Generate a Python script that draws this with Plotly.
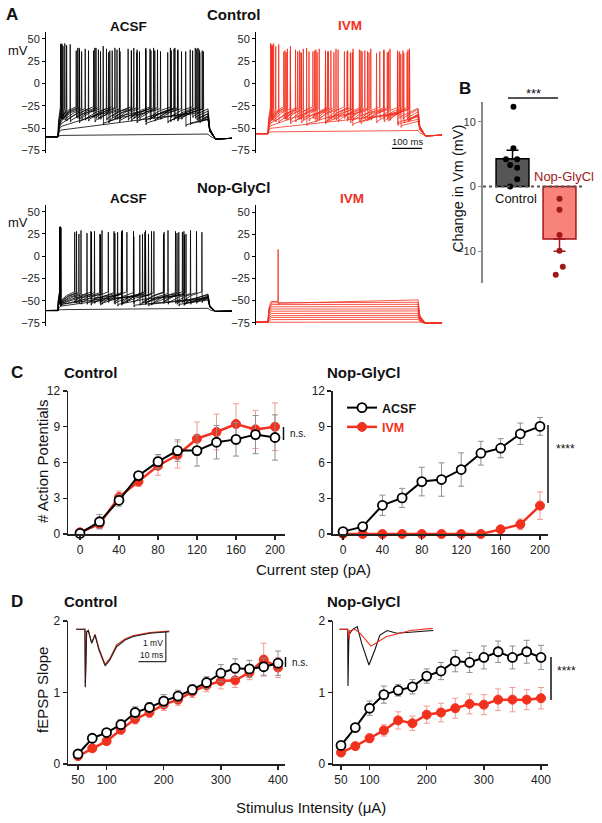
import plotly.graph_objects as go

W, H = 602, 823
FONT = "Liberation Sans, Arial, Helvetica, sans-serif"
RED = "#F2301E"
DARKRED = "#9E1A1A"
GRAY_ERR = "#8E8E8E"
RED_ERR = "#F39A93"

# ======================= DATA =======================
# ---- Panel A: current-clamp sweeps (time in ms, voltage in mV) ----
STEP_ON, STEP_OFF = 0, 500
T_START, T_END = -40, 580

# Control, ACSF (black)
CA_BASE = -59.5
CA_PLAT = [-58, -52, -48, -45, -43, -41, -40, -39, -38, -37, -36]
CA_THR = [None, -34, -33, -32, -30, -29, -28, -28, -27, -27, -26]
CA_AHP = [None, -46, -44, -42, -41, -40, -39, -38, -38, -37, -36]
CA_PEAK = [None, 36, 38, 35, 40, 37, 39, 36, 38, 40, 37]
CA_FIRST_PEAK = [None, 36, 42, 40, 44, 43, 45, 42, 44, 45, 44]
CA_SPIKES = [
    [],
    [425],
    [150, 292, 440],
    [70, 168, 262, 365, 472],
    [40, 122, 204, 292, 374, 466],
    [28, 101, 172, 244, 322, 398, 480],
    [22, 90, 161, 233, 306, 386, 462],
    [16, 78, 141, 206, 271, 341, 411, 484],
    [13, 71, 134, 196, 263, 331, 399, 470],
    [10, 65, 126, 189, 252, 318, 389, 457],
    [8, 60, 118, 180, 244, 309, 377, 448],
]

# Control, IVM (red)
CI_BASE = -56
CI_PLAT = [-54, -50, -47, -44, -42, -40, -39, -38, -37, -36, -35]
CI_THR = [None, -34, -33, -32, -30, -29, -28, -28, -27, -27, -26]
CI_AHP = [None, -47, -45, -43, -42, -41, -40, -39, -38, -38, -37]
CI_PEAK = [None, 33, 35, 37, 34, 38, 36, 39, 35, 37, 36]
CI_FIRST_PEAK = [None, 33, 40, 42, 44, 42, 45, 43, 44, 42, 45]
CI_SPIKES = [
    [],
    [442],
    [128, 281, 432],
    [74, 191, 309, 431],
    [35, 111, 191, 274, 361, 452],
    [25, 91, 159, 233, 304, 386, 466],
    [18, 74, 136, 198, 263, 331, 401, 471],
    [14, 64, 117, 170, 226, 283, 342, 406, 471],
    [12, 60, 109, 163, 219, 275, 336, 397, 463],
    [10, 56, 104, 155, 209, 265, 322, 385, 449],
    [8, 52, 98, 149, 201, 254, 313, 372, 438],
]

# Nop-GlyCl, ACSF (black)
NA_BASE = -61
NA_PLAT = [-60, -56, -54, -52, -50, -49, -48, -47, -46, -45, -44]
NA_THR = [None, -45, -44, -44, -43, -43, -42, -42, -41, -41, -40]
NA_AHP = [None, -55, -54, -54, -53, -53, -52, -52, -51, -51, -50]
NA_PEAK = [None, 22, 25, 27, 24, 28, 26, 29, 25, 28, 27]
NA_FIRST_PEAK = [None, 22, 31, 32, 33, 30, 33, 31, 33, 32, 33]
NA_SPIKES = [
    [],
    [252],
    [8, 301],
    [9, 198, 402],
    [8, 141, 272, 421],
    [7, 109, 211, 311, 419],
    [7, 96, 189, 291, 396],
    [6, 76, 146, 214, 291, 366, 441],
    [6, 69, 139, 211, 281, 351, 426],
    [5, 61, 121, 186, 251, 319, 391, 461],
    [5, 55, 111, 167, 229, 289, 353, 414, 479],
]

# Nop-GlyCl, IVM (red): almost no firing
NI_BASE = -74.5
NI_PLAT = [-74, -71.5, -69, -67, -64.5, -62, -59.5, -57, -54.5, -52.5, -51]
NI_PLAT_END = [-73.8, -71.2, -68.9, -66.7, -64.4, -61.7, -59.5, -56.8, -54.2, -51.9, -49.2]
NI_SPIKES = [[], [], [], [], [], [], [], [], [], [], [33]]
NI_THR = [None] * 10 + [-51]
NI_AHP = [None] * 10 + [-53]
NI_PEAK = [None] * 10 + [8]

SCALE_100MS = [413, 513]       # ms
SCALE_100MS_Y = -72.5          # mV

# ---- Panel B: change in Vm (mV) ----
B_GROUPS = ["Control", "Nop-GlyCl"]
B_MEANS = [4.3, -8.1]
B_SEM = [1.3, 1.9]
B_CTRL_PTS = [12.3, 5.9, 4.2, 4.2, 3.3, 2.9, 1.1, 0.0]
B_CTRL_JIT = [1.02, 1.02, 0.86, 1.10, 0.95, 1.10, 1.10, 0.95]
B_NOP_PTS = [-1.9, -3.6, -7.5, -9.9, -12.4, -13.6]
B_NOP_JIT = [2.0, 2.0, 2.0, 2.0, 2.07, 1.92]

# ---- Panel C: # action potentials vs current step ----
C_X = [0, 20, 40, 60, 80, 100, 120, 140, 160, 180, 200]
C_CTRL_ACSF = [0.05, 1.03, 2.83, 4.9, 6.07, 7.0, 7.0, 7.7, 7.94, 8.34, 8.1]
C_CTRL_ACSF_ERR = [0.1, 0.6, 0.5, 0.3, 0.6, 0.9, 1.3, 1.4, 1.4, 1.6, 1.9]
C_CTRL_IVM = [0.14, 0.84, 3.1, 4.4, 5.73, 6.63, 8.0, 8.56, 9.23, 8.78, 9.0]
C_CTRL_IVM_ERR = [0.1, 0.4, 0.5, 0.4, 0.8, 1.1, 1.4, 1.5, 1.7, 1.6, 2.0]
C_NOP_ACSF = [0.2, 0.62, 2.41, 3.03, 4.4, 4.57, 5.41, 6.78, 7.2, 8.41, 9.03]
C_NOP_ACSF_ERR = [0.1, 0.3, 0.85, 0.8, 1.2, 1.4, 1.4, 1.0, 0.8, 0.9, 0.75]
C_NOP_IVM = [0, 0, 0, 0, 0, 0, 0, 0, 0.39, 0.81, 2.38]
C_NOP_IVM_ERR = [0, 0, 0, 0, 0, 0, 0, 0, 0.2, 0.45, 1.15]

# ---- Panel D: fEPSP slope vs stimulus intensity ----
D_X = [50, 75, 100, 125, 150, 175, 200, 225, 250, 275, 300, 325, 350, 375, 400]
D_CTRL_ACSF = [0.14, 0.36, 0.44, 0.55, 0.72, 0.79, 0.88, 0.95, 1.04, 1.14, 1.27, 1.34, 1.33, 1.36, 1.41]
D_CTRL_ACSF_ERR = [0.03, 0.04, 0.05, 0.07, 0.08, 0.07, 0.09, 0.08, 0.07, 0.08, 0.12, 0.13, 0.12, 0.12, 0.17]
D_CTRL_IVM = [0.11, 0.22, 0.32, 0.48, 0.63, 0.72, 0.83, 0.90, 1.01, 1.10, 1.16, 1.17, 1.28, 1.46, 1.35]
D_CTRL_IVM_ERR = [0.03, 0.04, 0.05, 0.06, 0.07, 0.07, 0.08, 0.08, 0.08, 0.09, 0.11, 0.10, 0.10, 0.23, 0.14]
D_NOP_ACSF = [0.26, 0.51, 0.78, 0.97, 1.03, 1.08, 1.23, 1.30, 1.44, 1.42, 1.49, 1.57, 1.49, 1.57, 1.49]
D_NOP_ACSF_ERR = [0.03, 0.06, 0.10, 0.12, 0.08, 0.10, 0.10, 0.12, 0.15, 0.14, 0.16, 0.15, 0.16, 0.16, 0.17]
D_NOP_IVM = [0.16, 0.25, 0.36, 0.47, 0.61, 0.57, 0.69, 0.72, 0.78, 0.84, 0.83, 0.90, 0.90, 0.90, 0.92]
D_NOP_IVM_ERR = [0.03, 0.03, 0.06, 0.08, 0.12, 0.10, 0.12, 0.13, 0.14, 0.14, 0.14, 0.15, 0.17, 0.14, 0.15]

# fEPSP example traces (ms, mV)
INS_CTRL_T = [0, 3.2, 3.33, 3.8, 4.4, 5.6, 6.8, 8.2, 10.4, 12.1, 14.5, 17.5, 20.5, 26.4, 33.3]
INS_CTRL_ACSF = [0, 0, -1.93, -0.08, -0.04, -0.47, -0.19, -0.69, -1.22, -1.02, -0.58, -0.36, -0.24, -0.13, -0.08]
INS_CTRL_IVM = [0, 0, -1.90, -0.08, -0.04, -0.45, -0.17, -0.64, -1.17, -0.97, -0.52, -0.32, -0.21, -0.11, -0.06]
INS_NOP_T_ACSF = [0, 3.0, 3.1, 3.45, 3.8, 4.8, 6.4, 8.0, 10.6, 12.7, 14.5, 17.1, 20.5, 25.3, 33.6]
INS_NOP_ACSF = [0, 0, -1.89, -0.08, -0.13, 0, 0.09, -0.47, -1.19, -0.69, -0.19, -0.04, -0.13, -0.09, -0.04]
INS_NOP_T_IVM = [0, 3.0, 3.57, 3.7, 4.07, 5.6, 7.4, 9.8, 11.3, 13.4, 16.9, 21.7, 25.3, 33.4]
INS_NOP_IVM = [0, 0, -0.33, -0.04, -0.04, 0, -0.13, -0.41, -0.56, -0.44, -0.24, -0.13, -0.04, 0.03]
INS_SCALE_T = [22.3, 32.1, 32.1]
INS_SCALE_V = [-1.08, -1.08, -0.08]


# ======================= HELPERS =======================
def px(x):
    return x / W


def py(y):
    return 1 - y / H


def xdom(p0, v0, p1, v1, lo, hi):
    s = (p1 - p0) / (v1 - v0)
    return [px(p0 + (lo - v0) * s), px(p0 + (hi - v0) * s)]


def ydom(p0, v0, p1, v1, lo, hi):
    s = (p1 - p0) / (v1 - v0)
    a, b = py(p0 + (lo - v0) * s), py(p0 + (hi - v0) * s)
    return [min(a, b), max(a, b)]


def sweep_xy(base, plat, spikes, thr, ahp, peak, first_peak, plat_end=None, under=2.0):
    xs = [T_START, STEP_ON]
    ys = [base, base]
    if plat_end is None:
        plat_end = plat + 1.5
    if not spikes:
        xs += [STEP_ON + 3, STEP_ON + 12, STEP_OFF]
        ys += [base + 0.7 * (plat - base), plat, plat_end]
        v_end = plat_end
    else:
        t1 = spikes[0]
        lead = min(10.0, 0.5 * t1)
        xs += [STEP_ON + 0.4 * lead, STEP_ON + lead]
        ys += [base + 0.7 * (plat - base), plat]
        for i, ts in enumerate(spikes):
            pk = first_peak if i == 0 else peak
            xs += [ts, ts + 0.7, ts + 1.6, ts + 3.5]
            ys += [thr, pk, ahp - 2, ahp]
            if i + 1 < len(spikes):
                nxt = spikes[i + 1]
                xs.append(ts + 3.5 + 0.45 * (nxt - ts - 3.5))
                ys.append(ahp + 0.6 * (thr - ahp))
        tl = spikes[-1]
        isi = (spikes[-1] - spikes[0]) / (len(spikes) - 1) if len(spikes) > 1 else 150
        frac = max(0.0, min(0.85, (STEP_OFF - tl - 3.5) / isi))
        v_end = ahp + frac * (thr - ahp)
        if len(spikes) == 1 and spikes[0] < 100:
            v_end = plat_end
        xs.append(STEP_OFF)
        ys.append(v_end)
    xs += [STEP_OFF + 6, STEP_OFF + 25, T_END]
    ys += [base + 0.3 * (v_end - base), base - under, base - under * 0.7]
    return xs, ys


def panel_xy(base, plats, spikes, thrs, ahps, peaks, first_peaks, plat_ends=None, under=2.0):
    X, Y = [], []
    for i in range(len(plats)):
        pe = plat_ends[i] if plat_ends else None
        x, y = sweep_xy(base, plats[i], spikes[i], thrs[i], ahps[i], peaks[i],
                        first_peaks[i], pe, under)
        X += x + [None]
        Y += y + [None]
    return X, Y


fig = go.Figure()

# ======================= PANEL A =======================
trace_sets = [
    ("x", "y", CA_BASE, CA_PLAT, CA_SPIKES, CA_THR, CA_AHP, CA_PEAK, CA_FIRST_PEAK, None, "#000000", 2.5),
    ("x2", "y2", CI_BASE, CI_PLAT, CI_SPIKES, CI_THR, CI_AHP, CI_PEAK, CI_FIRST_PEAK, None, RED, 2.5),
    ("x3", "y3", NA_BASE, NA_PLAT, NA_SPIKES, NA_THR, NA_AHP, NA_PEAK, NA_FIRST_PEAK, None, "#000000", 1.0),
    ("x4", "y4", NI_BASE, NI_PLAT, NI_SPIKES, NI_THR, NI_AHP, NI_PEAK, NI_PEAK, NI_PLAT_END, RED, 1.2),
]
for xa, ya, base, plats, spk, thr, ahp, pk, fpk, pend, col, under in trace_sets:
    X, Y = panel_xy(base, plats, spk, thr, ahp, pk, fpk, pend, under)
    fig.add_trace(go.Scatter(x=X, y=Y, mode="lines", xaxis=xa, yaxis=ya,
                             line=dict(color=col, width=0.8), showlegend=False,
                             hoverinfo="skip"))

# 100 ms scale bar
fig.add_trace(go.Scatter(x=SCALE_100MS, y=[SCALE_100MS_Y] * 2, mode="lines", xaxis="x2", yaxis="y2",
                         line=dict(color="#000", width=1.2), showlegend=False, hoverinfo="skip"))

# ======================= PANEL B =======================
fig.add_trace(go.Bar(x=[1], y=[B_MEANS[0]], width=0.7, xaxis="x5", yaxis="y5",
                     marker=dict(color="#565656", line=dict(color="#000", width=1.5)),
                     error_y=dict(type="data", symmetric=False, array=[B_SEM[0]], arrayminus=[0],
                                  color="#000", thickness=1.5, width=6),
                     showlegend=False, hoverinfo="skip"))
fig.add_trace(go.Bar(x=[2], y=[B_MEANS[1]], width=0.7, xaxis="x5", yaxis="y5",
                     marker=dict(color="#F8837B", line=dict(color="#A3161A", width=1.5)),
                     error_y=dict(type="data", symmetric=False, array=[0], arrayminus=[B_SEM[1]],
                                  color="#A3161A", thickness=1.5, width=6),
                     showlegend=False, hoverinfo="skip"))
fig.add_trace(go.Scatter(x=B_CTRL_JIT, y=B_CTRL_PTS, mode="markers", xaxis="x5", yaxis="y5",
                         marker=dict(color="#000", size=6), showlegend=False, cliponaxis=False,
                         hoverinfo="skip"))
fig.add_trace(go.Scatter(x=B_NOP_JIT, y=B_NOP_PTS, mode="markers", xaxis="x5", yaxis="y5",
                         marker=dict(color=DARKRED, size=6), showlegend=False, cliponaxis=False,
                         hoverinfo="skip"))


# ======================= PANELS C & D =======================
def add_pair(xa, ya, xv, acsf, acsf_err, ivm, ivm_err, legend=False):
    fig.add_trace(go.Scatter(
        x=xv, y=ivm, mode="lines+markers", xaxis=xa, yaxis=ya,
        name="<span style='color:%s'><b>IVM</b></span>" % RED,
        line=dict(color=RED, width=2.5),
        marker=dict(color=RED, size=9, line=dict(color=RED, width=1)),
        error_y=dict(type="data", array=ivm_err, color=RED_ERR, thickness=1, width=3),
        showlegend=legend, legendrank=2, cliponaxis=False, hoverinfo="skip"))
    fig.add_trace(go.Scatter(
        x=xv, y=acsf, mode="lines+markers", xaxis=xa, yaxis=ya, name="<b>ACSF</b>",
        line=dict(color="#000", width=2),
        marker=dict(color="#fff", size=9, line=dict(color="#000", width=1.8)),
        error_y=dict(type="data", array=acsf_err, color=GRAY_ERR, thickness=1, width=3),
        showlegend=legend, legendrank=1, cliponaxis=False, hoverinfo="skip"))


add_pair("x6", "y6", C_X, C_CTRL_ACSF, C_CTRL_ACSF_ERR, C_CTRL_IVM, C_CTRL_IVM_ERR)
add_pair("x7", "y7", C_X, C_NOP_ACSF, C_NOP_ACSF_ERR, C_NOP_IVM, C_NOP_IVM_ERR, legend=True)
add_pair("x8", "y8", D_X, D_CTRL_ACSF, D_CTRL_ACSF_ERR, D_CTRL_IVM, D_CTRL_IVM_ERR)
add_pair("x9", "y9", D_X, D_NOP_ACSF, D_NOP_ACSF_ERR, D_NOP_IVM, D_NOP_IVM_ERR)

# insets
fig.add_trace(go.Scatter(x=INS_CTRL_T, y=INS_CTRL_IVM, mode="lines", xaxis="x10", yaxis="y10",
                         line=dict(color="#D8281C", width=1.1), showlegend=False, hoverinfo="skip"))
fig.add_trace(go.Scatter(x=INS_CTRL_T, y=INS_CTRL_ACSF, mode="lines", xaxis="x10", yaxis="y10",
                         line=dict(color="#222", width=1.1), showlegend=False, hoverinfo="skip"))
fig.add_trace(go.Scatter(x=INS_SCALE_T, y=INS_SCALE_V, mode="lines", xaxis="x10", yaxis="y10",
                         line=dict(color="#000", width=1), showlegend=False, hoverinfo="skip"))
fig.add_trace(go.Scatter(x=INS_NOP_T_ACSF, y=INS_NOP_ACSF, mode="lines", xaxis="x11", yaxis="y11",
                         line=dict(color="#111", width=1.1), showlegend=False, hoverinfo="skip"))
fig.add_trace(go.Scatter(x=INS_NOP_T_IVM, y=INS_NOP_IVM, mode="lines", xaxis="x11", yaxis="y11",
                         line=dict(color=RED, width=1.1), showlegend=False, hoverinfo="skip"))

# ======================= AXES =======================
tickA = dict(showline=True, linecolor="#000", linewidth=1, ticks="outside", ticklen=3,
             tickcolor="#000", tickwidth=1, tickvals=[50, 25, 0, -25, -50, -75],
             tickfont=dict(size=11, family=FONT, color="#222"), showgrid=False, zeroline=False,
             range=[-78, 58], fixedrange=True, automargin=False)
hidden = dict(visible=False, showgrid=False, zeroline=False, fixedrange=True, automargin=False)
lay = {}
A_XTL = xdom(58, 0, 208, 500, T_START, T_END)
A_XTR = xdom(268, 0, 418, 500, T_START, T_END)
lay["xaxis"] = dict(hidden, domain=A_XTL, range=[T_START, T_END], anchor="y")
lay["yaxis"] = dict(tickA, domain=ydom(39, 50, 150.6, -75, -78, 58), anchor="x")
lay["xaxis2"] = dict(hidden, domain=A_XTR, range=[T_START, T_END], anchor="y2")
lay["yaxis2"] = dict(tickA, domain=ydom(39, 50, 150.6, -75, -78, 58), anchor="x2")
lay["xaxis3"] = dict(hidden, domain=A_XTL, range=[T_START, T_END], anchor="y3")
lay["yaxis3"] = dict(tickA, domain=ydom(211.7, 50, 323, -75, -78, 58), anchor="x3")
lay["xaxis4"] = dict(hidden, domain=A_XTR, range=[T_START, T_END], anchor="y4")
lay["yaxis4"] = dict(tickA, domain=ydom(212.3, 50, 322.7, -75, -78, 58), anchor="x4")

# B
lay["xaxis5"] = dict(hidden, domain=xdom(512.5, 1, 559.5, 2, 0.372, 2.48), range=[0.372, 2.48], anchor="y5")
lay["yaxis5"] = dict(showline=True, linecolor="#8a8a8a", linewidth=2, ticks="outside", ticklen=3,
                     tickcolor="#8a8a8a", tickwidth=1.5, tickvals=[-10, 0, 10],
                     tickfont=dict(size=11, family=FONT, color="#333"), showgrid=False, zeroline=False,
                     range=[-14.85, 13.0], domain=ydom(186.5, 0, 121.7, 10, -14.85, 13.0),
                     anchor="x5", fixedrange=True, automargin=False)

axis_style = dict(showline=True, linecolor="#222", linewidth=1.5, ticks="outside", ticklen=4,
                  tickcolor="#222", tickwidth=1.3, tickfont=dict(size=12, family=FONT, color="#222"),
                  showgrid=False, zeroline=False, fixedrange=True, automargin=False)
C_YD = ydom(534, 0, 391, 12, 0, 12)
lay["xaxis6"] = dict(axis_style, domain=xdom(80, 0, 275, 200, -12.3, 210.3), range=[-12.3, 210.3],
                     tickvals=[0, 40, 80, 120, 160, 200], anchor="y6")
lay["yaxis6"] = dict(axis_style, domain=C_YD, range=[0, 12], tickvals=[0, 3, 6, 9, 12], anchor="x6")
lay["xaxis7"] = dict(axis_style, domain=xdom(343, 0, 540, 200, -10.2, 208.1), range=[-10.2, 208.1],
                     tickvals=[0, 40, 80, 120, 160, 200], anchor="y7")
lay["yaxis7"] = dict(axis_style, domain=C_YD, range=[0, 12], tickvals=[0, 3, 6, 9, 12], anchor="x7")

D_YD = ydom(764, 0, 621, 2, 0, 2)
lay["xaxis8"] = dict(axis_style, domain=xdom(78, 50, 278, 400, 32.5, 412.3), range=[32.5, 412.3],
                     tickvals=[50, 100, 200, 300, 400], anchor="y8")
lay["yaxis8"] = dict(axis_style, domain=D_YD, range=[0, 2], tickvals=[0, 1, 2], anchor="x8")
lay["xaxis9"] = dict(axis_style, domain=xdom(341, 50, 541, 400, 36, 412.3), range=[36, 412.3],
                     tickvals=[50, 100, 200, 300, 400], anchor="y9")
lay["yaxis9"] = dict(axis_style, domain=D_YD, range=[0, 2], tickvals=[0, 1, 2], anchor="x9")

INS_YD = ydom(629.3, 0, 659.3, -1, -2.1, 0.45)
lay["xaxis10"] = dict(hidden, domain=xdom(76, 0, 171.2, 34, 0, 34), range=[0, 34], anchor="y10")
lay["yaxis10"] = dict(hidden, domain=INS_YD, range=[-2.1, 0.45], anchor="x10")
lay["xaxis11"] = dict(hidden, domain=xdom(339.3, 0, 434.5, 34, 0, 34), range=[0, 34], anchor="y11")
lay["yaxis11"] = dict(hidden, domain=INS_YD, range=[-2.1, 0.45], anchor="x11")


# ======================= TEXT =======================
def ann(text, x, y, size=13, bold=False, color="#111", angle=0, xanchor="center"):
    if bold:
        text = "<b>" + text + "</b>"
    return dict(text=text, x=px(x), y=py(y), xref="paper", yref="paper", showarrow=False,
                xanchor=xanchor, yanchor="middle", textangle=angle,
                font=dict(size=size, family=FONT, color=color))


annotations = [
    ann("A", 12, 15, 17, True), ann("Control", 233, 15, 15, True),
    ann("ACSF", 128, 27, 13.5, True), ann("IVM", 350, 26, 13.5, True, RED),
    ann("mV", 18, 51, 13), ann("Nop-GlyCl", 233, 187, 15, True),
    ann("ACSF", 128, 198, 13.5, True), ann("IVM", 352, 198, 13.5, True, RED),
    ann("mV", 18, 222, 13), ann("100 ms", 407, 141, 9.5),
    ann("B", 465, 88, 17, True), ann("***", 533, 93, 13),
    ann("Control", 516, 198, 13), ann("Nop-GlyCl", 564, 176, 13, color=DARKRED),
    ann("Change in Vm (mV)", 458, 189, 14.5, angle=-90),
    ann("C", 17, 373, 17, True), ann("Control", 90, 373, 15, True), ann("Nop-GlyCl", 363, 373, 15, True),
    ann("# Action Potentials", 42, 462, 15, angle=-90),
    ann("Current step (pA)", 313, 569, 15),
    ann("n.s.", 288, 433, 10, xanchor="left"), ann("****", 565, 449, 12),
    ann("D", 17, 601, 17, True), ann("Control", 90, 601, 15, True), ann("Nop-GlyCl", 363, 601, 15, True),
    ann("fEPSP Slope", 42, 690, 15, angle=-90),
    ann("Stimulus Intensity (μA)", 311, 807, 15),
    ann("n.s.", 290, 662, 10, xanchor="left"), ann("****", 566, 671, 12),
    ann("1 mV", 165, 643, 8.5, xanchor="right"), ann("10 ms", 165, 655, 8.5, xanchor="right"),
]


def vline(x, y0, y1, color="#111", width=1.5):
    return dict(type="line", xref="paper", yref="paper", x0=px(x), x1=px(x), y0=py(y0), y1=py(y1),
                line=dict(color=color, width=width))


shapes = [
    dict(type="line", xref="paper", yref="paper", x0=px(508), x1=px(558), y0=py(98), y1=py(98),
         line=dict(color="#555", width=2)),
    dict(type="line", xref="x5", yref="y5", x0=0.372, x1=2.48, y0=0, y1=0,
         line=dict(color="#555", width=1.8, dash="dot")),
    vline(283.5, 427, 440), vline(548, 425, 503),
    vline(285.5, 657, 667), vline(551, 657, 700),
]

fig.update_layout(
    template="none",
    width=W, height=H, margin=dict(l=0, r=0, t=0, b=0, pad=0, autoexpand=False),
    paper_bgcolor="white", plot_bgcolor="rgba(0,0,0,0)",
    font=dict(family=FONT, color="#111"),
    annotations=annotations, shapes=shapes, barmode="overlay",
    legend=dict(x=px(342), y=py(393), xanchor="left", yanchor="top", bgcolor="rgba(0,0,0,0)",
                font=dict(size=12.5, family=FONT, color="#111"), itemwidth=30, tracegroupgap=0),
    **lay,
)

fig.write_html("out.html", config={"displayModeBar": False, "staticPlot": True},
               post_script="document.body.style.margin='0';document.body.style.padding='0';")
